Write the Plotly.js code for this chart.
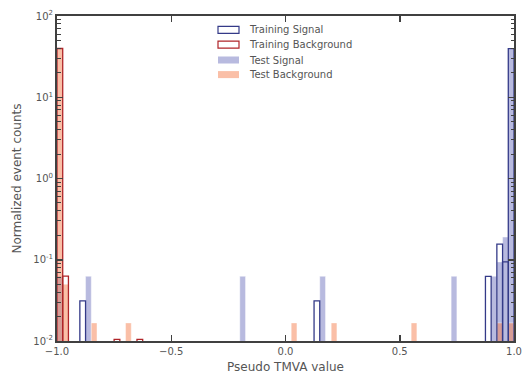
<!DOCTYPE html>
<html>
<head>
<meta charset="utf-8">
<script src="https://cdn.plot.ly/plotly-3.0.1.min.js"></script>
<style>html,body{margin:0;padding:0;background:#fff}#chart{width:526px;height:374px}</style>
</head>
<body>
<div id="chart"></div>
<script>
// Histogram: 80 bins of width 0.025 over [-1, 1]; x = lower bin edge
const binWidth = 0.025;

const trainSignalX = [-0.9, 0.125, 0.875, 0.925, 0.95, 0.975];
const trainSignalY = [0.03125, 0.03125, 0.0625, 0.156, 0.094, 39.6];

const trainBackgroundX = [-1.0, -0.975, -0.75, -0.65];
const trainBackgroundY = [39.8, 0.063, 0.0105, 0.0105];

const testSignalX = [-1.0, -0.875, -0.2, 0.15, 0.725, 0.9, 0.925, 0.95, 0.975];
const testSignalY = [0.0625, 0.0625, 0.0625, 0.0625, 0.0625, 0.0625, 0.094, 0.19, 39.3];

const testBackgroundX = [-1.0, -0.975, -0.85, -0.7, 0.025, 0.2, 0.55, 0.925, 0.975];
const testBackgroundY = [39.7, 0.05, 0.0167, 0.0167, 0.0167, 0.0167, 0.0167, 0.0167, 0.0167];

const seriesNames = ["Training Signal", "Training Background", "Test Signal", "Test Background"];

const xTickVals = [-1, -0.5, 0, 0.5, 1];
const xTickText = ["\u22121.0", "\u22120.5", "0.0", "0.5", "1.0"];
const yTickVals = [0.01, 0.1, 1, 10, 100];
const yTickText = ["10<sup>-2</sup>", "10<sup>-1</sup>", "10<sup>0</sup>", "10<sup>1</sup>", "10<sup>2</sup>"];

const centers = xs => xs.map(x => x + binWidth / 2);

const colSigLine = "#343a88";
const colBkgLine = "#b02428";
const colSigFill = "rgba(114,118,192,0.5)";
const colBkgFill = "rgba(246,128,80,0.5)";

const traces = [
  {type: "bar", x: centers(testSignalX), y: testSignalY, width: binWidth,
   marker: {color: colSigFill, line: {color: "rgba(255,255,255,0.5)", width: 0.8}}, showlegend: false, hoverinfo: "skip"},
  {type: "bar", x: centers(testBackgroundX), y: testBackgroundY, width: binWidth,
   marker: {color: colBkgFill, line: {color: "rgba(255,255,255,0.5)", width: 0.8}}, showlegend: false, hoverinfo: "skip"},
  {type: "bar", x: centers(trainSignalX), y: trainSignalY, width: binWidth,
   marker: {color: "rgba(0,0,0,0)", line: {color: colSigLine, width: 1.3}}, showlegend: false, hoverinfo: "skip"},
  {type: "bar", x: centers(trainBackgroundX), y: trainBackgroundY, width: binWidth,
   marker: {color: "rgba(0,0,0,0)", line: {color: colBkgLine, width: 1.3}}, showlegend: false, hoverinfo: "skip"}
];

// minor log ticks
const minorVals = [];
[0.01, 0.1, 1, 10].forEach(d => { for (let k = 2; k <= 9; k++) minorVals.push(d * k); });

// plot area geometry in px (for the manual legend)
const L = 57, R = 12, T = 16, B = 33, W = 526, H = 374;
const pw = W - L - R, ph = H - T - B;
const px2x = p => (p - L) / pw;
const py2y = p => (H - B - p) / ph;

const legendRows = [29.8, 44.6, 60.0, 74.6];
const legendFill = ["#ffffff", "#ffffff", colSigFill, colBkgFill];
const legendLine = [colSigLine, colBkgLine, "rgba(255,255,255,0)", "rgba(255,255,255,0)"];
const shapes = [], annotations = [];
seriesNames.forEach((name, i) => {
  const cy = legendRows[i];
  shapes.push({type: "rect", xref: "paper", yref: "paper",
    x0: px2x(218), x1: px2x(239), y0: py2y(cy - 3.5), y1: py2y(cy + 3.5),
    fillcolor: legendFill[i], line: {color: legendLine[i], width: 1.2}});
  annotations.push({xref: "paper", yref: "paper", x: px2x(246.5), y: py2y(cy),
    xanchor: "left", yanchor: "middle", showarrow: false, text: name,
    font: {family: "DejaVu Sans", size: 10, color: "#555555"}});
});

const axisCommon = {
  showline: true, linewidth: 2, linecolor: "#404040", mirror: "allticks",
  ticks: "inside", ticklen: 6, tickwidth: 1.5, tickcolor: "#404040",
  showgrid: false, zeroline: false,
  tickfont: {family: "DejaVu Sans", size: 10, color: "#555555"}
};

const layout = {
  width: W, height: H,
  margin: {l: L, r: R, t: T, b: B, pad: 0},
  paper_bgcolor: "#ffffff", plot_bgcolor: "#ffffff",
  barmode: "overlay",
  showlegend: false,
  font: {family: "DejaVu Sans", color: "#555555"},
  xaxis: Object.assign({}, axisCommon, {
    range: [-1, 1], tickmode: "array", tickvals: xTickVals, ticktext: xTickText,
    title: {text: "Pseudo TMVA value", font: {family: "DejaVu Sans", size: 12, color: "#555555"}, standoff: 7},
    automargin: false
  }),
  yaxis: Object.assign({}, axisCommon, {
    type: "log", range: [-2, 2], tickmode: "array", tickvals: yTickVals, ticktext: yTickText,
    minor: {tickmode: "array", tickvals: minorVals, ticks: "inside", ticklen: 3.5, tickwidth: 1, tickcolor: "#404040"},
    title: {text: "Normalized event counts", font: {family: "DejaVu Sans", size: 12, color: "#555555"}, standoff: 9},
    automargin: false
  }),
  shapes: shapes,
  annotations: annotations
};

Plotly.newPlot("chart", traces, layout, {displayModeBar: false, staticPlot: true});
</script>
</body>
</html>
